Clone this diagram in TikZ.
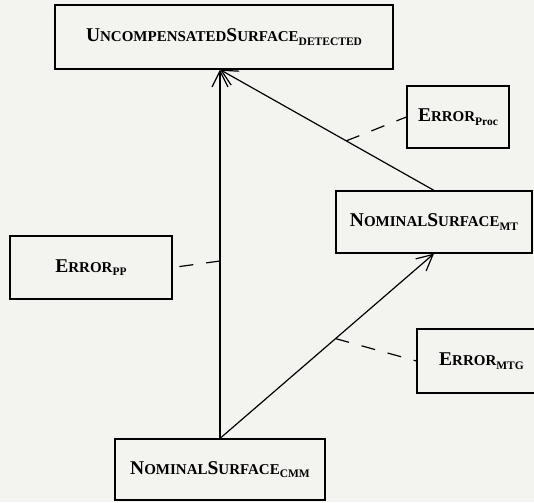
\documentclass[tikz,border=0pt]{standalone}
\usepackage{fontspec}
\setmainfont{Liberation Serif}
\usetikzlibrary{arrows.meta}

\definecolor{paper}{RGB}{243,243,240}

% small-caps style labels: a large initial, smaller capitals, lowered subscript
\newcommand\Ini[1]{{\fontsize{19.5}{19.5}\selectfont #1}}
\newcommand\Sc[1]{{\fontsize{15}{15}\selectfont #1}}
\newcommand\Sb[1]{\raisebox{-3.5pt}{\fontsize{11.5}{11.5}\selectfont #1}}

\tikzset{
  box/.style={draw, line width=1.2pt, rectangle, inner sep=0pt,
              font=\bfseries, fill=paper},
  flow/.style={line width=1.2pt, -{Straight Barb[length=16pt,width=16pt,line width=1.2pt]}},
  link/.style={line width=1.2pt, dash pattern=on 14pt off 13pt}
}

\begin{document}
\begin{tikzpicture}[x=1pt,y=-1pt]
  \fill[paper] (0,0) rectangle (534,502);
  \useasboundingbox (0,0) rectangle (534,502);

  \node[box, minimum width=338pt, minimum height=64pt] (top) at (224,37)
    {\Ini{U}\Sc{NCOMPENSATED}\Ini{S}\Sc{URFACE}\Sb{DETECTED}};
  \node[box, minimum width=102pt, minimum height=62pt] (proc) at (458,117)
    {\Ini{E}\Sc{RROR}\Sb{Proc}};
  \node[box, minimum width=196pt, minimum height=62pt] (mt) at (434,222)
    {\Ini{N}\Sc{OMINAL}\Ini{S}\Sc{URFACE}\Sb{MT}};
  \node[box, minimum width=162pt, minimum height=63pt] (pp) at (91,267.5)
    {\Ini{E}\Sc{RROR}\Sb{PP}};
  \node[box, minimum width=129pt, minimum height=64pt] (mtg) at (481.5,361)
    {\Ini{E}\Sc{RROR}\Sb{MTG}};
  \node[box, minimum width=210pt, minimum height=61pt] (cmm) at (220,469.5)
    {\Ini{N}\Sc{OMINAL}\Ini{S}\Sc{URFACE}\Sb{CMM}};

  % common target point on the lower edge of the top box
  \coordinate (hit) at (cmm.north |- top.south);

  \draw[flow] (cmm.north) -- (hit);
  \draw[flow] (cmm.north) -- (mt.south);
  \draw[flow] (mt.north) -- (hit);

  % points where the error sources attach
  \path (mt.north) -- (hit) coordinate[pos=0.41] (onproc);
  \path (cmm.north) -- (mt.south) coordinate[pos=0.54] (onmtg);
  \coordinate (onpp) at (cmm.north |- 0,261);

  \draw[link] (onproc) -- (proc.west);
  \draw[link] (onpp) -- (pp.east);
  \draw[link] (onmtg) -- (mtg.west);
\end{tikzpicture}
\end{document}
